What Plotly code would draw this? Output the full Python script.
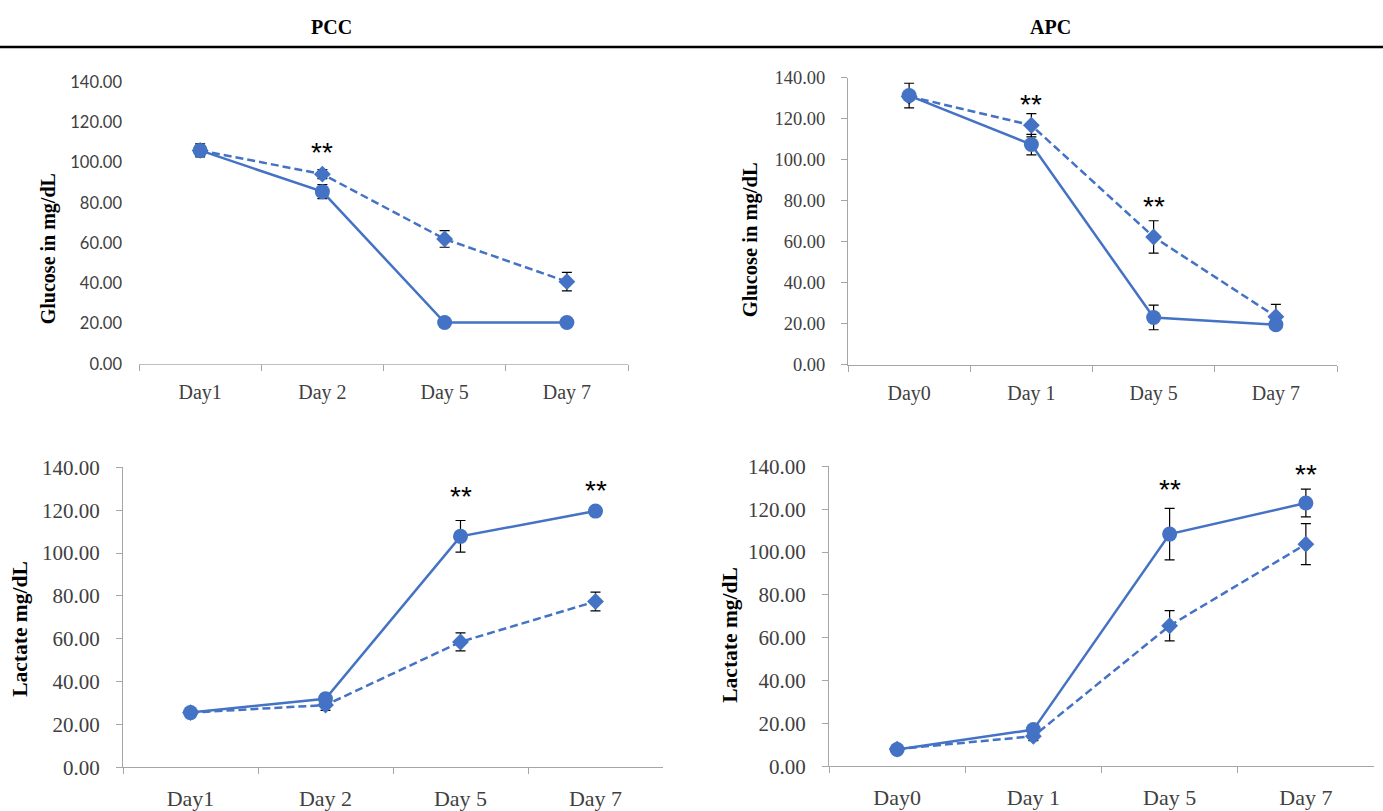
import plotly.graph_objects as go

W, H = 1383, 811

# ---------------- data ----------------
pcc_days = ["Day1", "Day 2", "Day 5", "Day 7"]
apc_days = ["Day0", "Day 1", "Day 5", "Day 7"]

glu_pcc_solid = [106.0, 85.5, 20.5, 20.5]
glu_pcc_solid_err = [3.2, 3.5, 0.8, 0.8]
glu_pcc_dash = [106.0, 94.2, 62.0, 40.8]
glu_pcc_dash_err = [2.0, 2.2, 4.1, 4.6]
glu_pcc_sig_days = ["Day 2"]
glu_pcc_sig_y = [107.4]

glu_apc_solid = [131.4, 107.5, 23.1, 19.6]
glu_apc_solid_err = [6.0, 5.0, 6.0, 1.5]
glu_apc_dash = [131.0, 116.9, 62.4, 23.5]
glu_apc_dash_err = [2.0, 5.7, 7.9, 6.0]
glu_apc_sig_days = ["Day 1", "Day 5"]
glu_apc_sig_y = [129.5, 79.7]

lac_pcc_solid = [25.5, 32.0, 107.8, 119.6]
lac_pcc_solid_err = [1.0, 2.0, 7.4, 1.8]
lac_pcc_dash = [25.5, 29.0, 58.5, 77.4]
lac_pcc_dash_err = [1.0, 2.5, 4.2, 4.4]
lac_pcc_sig_days = ["Day 5", "Day 7"]
lac_pcc_sig_y = [128.9, 131.5]

lac_apc_solid = [7.8, 17.1, 108.4, 122.9]
lac_apc_solid_err = [1.0, 1.5, 12.0, 6.5]
lac_apc_dash = [8.0, 14.0, 65.6, 103.7]
lac_apc_dash_err = [1.0, 2.0, 7.1, 9.6]
lac_apc_sig_days = ["Day 5", "Day 7"]
lac_apc_sig_y = [131.4, 138.4]

y_ticks = [0, 20, 40, 60, 80, 100, 120, 140]

# ---------------- style ----------------
BLUE = "#4472C4"
AXIS = "#A6A6A6"
TXT = "#404040"
SERIF = "Liberation Serif"

# vertical calibration of the rendered page (measured)
VS, VO = 0.973, 9.8


def vy(y):
    return (y - VO) / VS


def dom_x(a, b):
    return [a / W, b / W]


def dom_y(top, bottom):
    return [1 - vy(bottom) / H, 1 - vy(top) / H]


def py(y):
    return 1 - vy(y) / H


panels = [
    dict(n="", cats=pcc_days, solid=glu_pcc_solid, serr=glu_pcc_solid_err,
         dash=glu_pcc_dash, derr=glu_pcc_dash_err, sig_d=glu_pcc_sig_days, sig_y=glu_pcc_sig_y,
         xd=dom_x(139, 628), yd=dom_y(80, 363), title="Glucose in mg/dL", tpos=(48, 248),
         ytf=dict(family="Lato", size=16.5, color=TXT), xtf=20, tsize=20, yline=False, xso=10),
    dict(n="2", cats=apc_days, solid=glu_apc_solid, serr=glu_apc_solid_err,
         dash=glu_apc_dash, derr=glu_apc_dash_err, sig_d=glu_apc_sig_days, sig_y=glu_apc_sig_y,
         xd=dom_x(848, 1337), yd=dom_y(76, 364), title="Glucose in mg/dL", tpos=(750, 239),
         ytf=dict(family=SERIF, size=18.5, color=TXT), xtf=20, tsize=20.5, yline=True, xso=10),
    dict(n="3", cats=pcc_days, solid=lac_pcc_solid, serr=lac_pcc_solid_err,
         dash=lac_pcc_dash, derr=lac_pcc_dash_err, sig_d=lac_pcc_sig_days, sig_y=lac_pcc_sig_y,
         xd=dom_x(123, 663), yd=dom_y(467, 768), title="Lactate mg/dL", tpos=(20, 629),
         ytf=dict(family=SERIF, size=21, color=TXT), xtf=22, tsize=21.5, yline=True, xso=11),
    dict(n="4", cats=apc_days, solid=lac_apc_solid, serr=lac_apc_solid_err,
         dash=lac_apc_dash, derr=lac_apc_dash_err, sig_d=lac_apc_sig_days, sig_y=lac_apc_sig_y,
         xd=dom_x(829, 1374), yd=dom_y(466, 767), title="Lactate mg/dL", tpos=(730, 635),
         ytf=dict(family=SERIF, size=21, color=TXT), xtf=22, tsize=21.5, yline=True, xso=11),
]

fig = go.Figure()
annotations = []
layout_axes = {}

for p in panels:
    xa, ya = "x" + p["n"], "y" + p["n"]
    fig.add_trace(go.Scatter(
        x=p["cats"], y=p["dash"], xaxis=xa, yaxis=ya, mode="lines+markers",
        line=dict(color=BLUE, width=2.5, dash="8px,4px"),
        marker=dict(symbol="diamond", size=13, color=BLUE),
        error_y=dict(type="data", array=p["derr"], color="black", thickness=1.2, width=5),
        showlegend=False, cliponaxis=False))
    fig.add_trace(go.Scatter(
        x=p["cats"], y=p["solid"], xaxis=xa, yaxis=ya, mode="lines+markers",
        line=dict(color=BLUE, width=2.5),
        marker=dict(symbol="circle", size=15, color=BLUE),
        error_y=dict(type="data", array=p["serr"], color="black", thickness=1.2, width=5),
        showlegend=False, cliponaxis=False))

    for d, yv in zip(p["sig_d"], p["sig_y"]):
        annotations.append(dict(x=d, y=yv, xref=xa, yref=ya, text="**", showarrow=False,
                                font=dict(family="Liberation Sans", size=28, color="black"),
                                xanchor="center", yanchor="middle", yshift=-5))

    annotations.append(dict(x=p["tpos"][0] / W, y=py(p["tpos"][1]), xref="paper", yref="paper",
                            text="<b>" + p["title"] + "</b>", textangle=-90, showarrow=False,
                            font=dict(family=SERIF, size=p["tsize"], color="black"),
                            xanchor="center", yanchor="middle"))

    xkey = "xaxis" + p["n"]
    ykey = "yaxis" + p["n"]
    layout_axes[xkey] = dict(
        domain=p["xd"], anchor=ya, type="category", categoryorder="array",
        categoryarray=p["cats"], range=[-0.5, 3.5], showgrid=False, zeroline=False,
        showline=True, linecolor="#BFBFBF" if not p["yline"] else AXIS, linewidth=1,
        ticks="outside", tickson="boundaries", ticklen=6, tickcolor=AXIS,
        tickfont=dict(family=SERIF, size=p["xtf"], color=TXT), ticklabelstandoff=p["xso"])
    yax = dict(
        domain=p["yd"], anchor=xa, range=[0, 140], tickvals=y_ticks, tickformat=".2f",
        showgrid=False, zeroline=False, tickfont=p["ytf"])
    if p["yline"]:
        yax.update(showline=True, linecolor=AXIS, linewidth=1, ticks="outside",
                   ticklen=6, tickcolor=AXIS, ticklabelstandoff=12)
    else:
        yax.update(showline=False, ticks="", ticklabelstandoff=16)
    layout_axes[ykey] = yax

# header
for label, hx in (("PCC", 331), ("APC", 1050)):
    annotations.append(dict(x=hx / W, y=py(25), xref="paper", yref="paper", text="<b>" + label + "</b>",
                            showarrow=False, xanchor="center", yanchor="middle",
                            font=dict(family=SERIF, size=20, color="black")))

fig.update_layout(
    width=W, height=H, margin=dict(l=0, r=0, t=0, b=0),
    paper_bgcolor="white", plot_bgcolor="white",
    annotations=annotations,
    shapes=[dict(type="line", xref="paper", yref="paper", x0=0, x1=1,
                 y0=py(45), y1=py(45), line=dict(color="black", width=2.5))],
    **layout_axes)

fig.write_html(
    "out.html",
    config={"displayModeBar": False},
    post_script="document.body.style.margin='0';document.body.style.overflow='hidden';",
)
